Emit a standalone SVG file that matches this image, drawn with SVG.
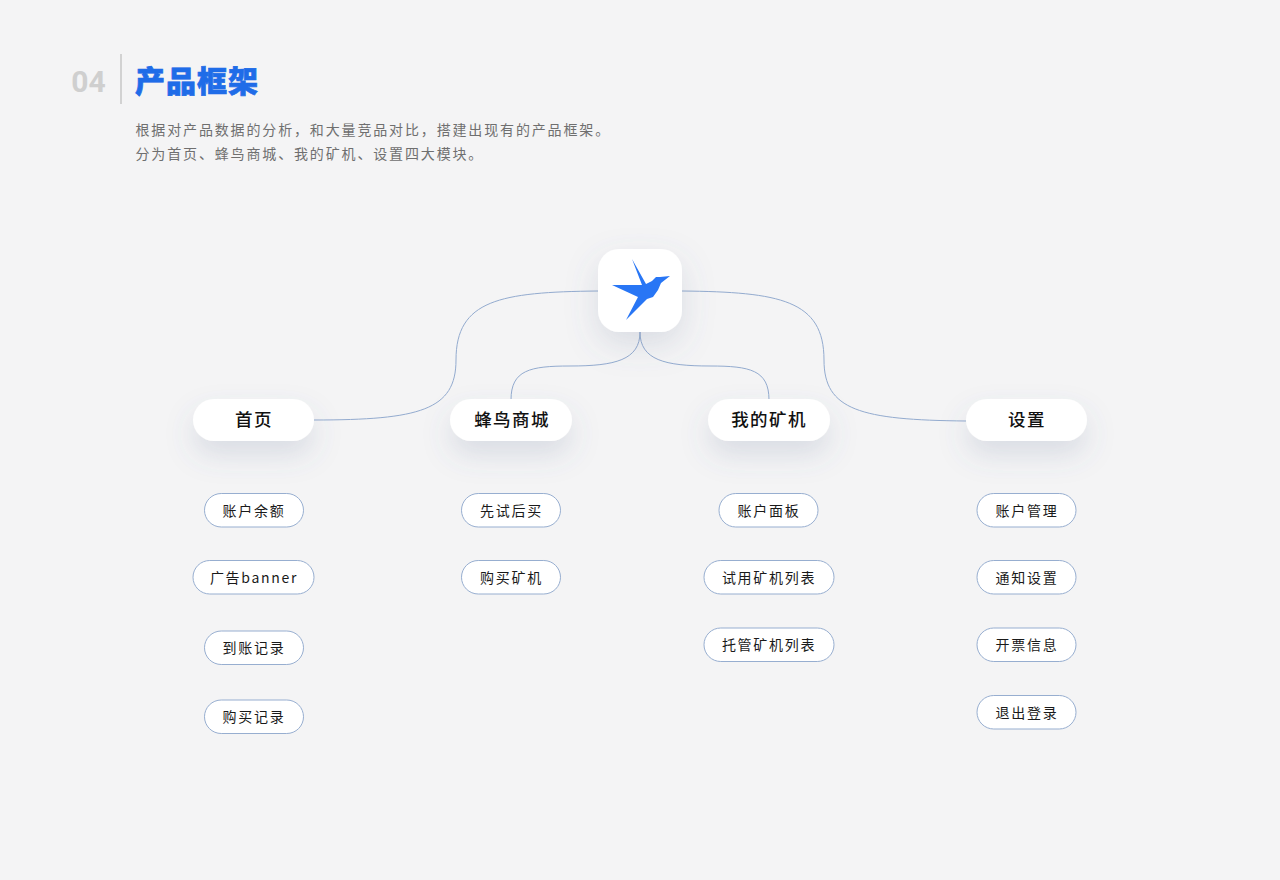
<svg xmlns="http://www.w3.org/2000/svg" width="1280" height="880" viewBox="0 0 1280 880">
<style>
text{font-family:"Noto Sans CJK SC","Noto Sans",sans-serif;text-anchor:middle}
.main rect{fill:#fff;filter:url(#sh)}
.main text{font-size:17.5px;font-weight:500;letter-spacing:1.4px;fill:#111}
.sub rect{fill:#fff;stroke:#97aed0;stroke-width:1}
.sub text{font-size:14px;letter-spacing:1.7px;fill:#1a1a1a}
.desc{font-size:14px;letter-spacing:1.85px;fill:#6f6f6f;text-anchor:start}
.link{fill:none;stroke:#93abcf;stroke-width:1}
</style>
<defs>
<filter id="sh" x="-60%" y="-100%" width="220%" height="400%"><feDropShadow dx="0" dy="14" stdDeviation="14" flood-color="#5a6a90" flood-opacity="0.17"/></filter>
<filter id="sh2" x="-60%" y="-60%" width="220%" height="240%"><feDropShadow dx="0" dy="12" stdDeviation="16" flood-color="#5a6a90" flood-opacity="0.18"/></filter>
</defs>
<rect width="1280" height="880" fill="#f4f4f5"/>
<g id="header">
<text x="88.500" y="92" style="font-family:Roboto,'Liberation Sans',sans-serif;font-size:30px;font-weight:700" fill="#cfcfcf">04</text>
<rect x="120" y="54" width="2" height="50" fill="#d2d2d2"/>
<text x="135" y="92" stroke="#1f6ce8" stroke-width="0.7" style="font-size:30px;font-weight:900;letter-spacing:1px;text-anchor:start" fill="#1f6ce8">产品框架</text>
<text class="desc" x="135.500" y="134.500">根据对产品数据的分析，和大量竞品对比，搭建出现有的产品框架。</text>
<text class="desc" x="135.500" y="158.500">分为首页、蜂鸟商城、我的矿机、设置四大模块。</text>
</g>
<g id="connectors">
<path class="link" d="M598 291C500 292 456 300 456 360C456 410 420 420 314 420"/>
<path class="link" d="M682 291C780 292 824 300 824 360C824 410 860 420 966 421"/>
<path class="link" d="M640 332C640 360 615 366 570 366C530 366 511 370 511 400"/>
<path class="link" d="M640 332C640 360 665 366 710 366C750 366 769 370 769 400"/>
</g>
<g id="logo">
<rect x="598" y="249" width="84" height="83" rx="21" fill="#fff" filter="url(#sh2)"/>
<path d="M632 259L646 284L652 281L656 277L660 277L670 276L661 283L658 290L653 297L647 299L626 320L638 297L612 285L642 285Z" fill="#2876f5"/>
</g>
<g id="n-home" class="main"><rect x="193" y="399" width="121" height="42" rx="21"/><text x="254" y="426">首页</text></g>
<g id="n-shop" class="main"><rect x="450" y="399" width="122" height="42" rx="21"/><text x="512" y="426">蜂鸟商城</text></g>
<g id="n-miner" class="main"><rect x="708" y="399" width="122" height="42" rx="21"/><text x="769" y="426">我的矿机</text></g>
<g id="n-set" class="main"><rect x="966" y="399" width="121" height="42" rx="21"/><text x="1027" y="426">设置</text></g>
<g id="a1" class="sub"><rect x="204.500" y="493.500" width="99" height="33.500" rx="16.750"/><text x="254" y="515.500">账户余额</text></g>
<g id="a2" class="sub"><rect x="193" y="560.500" width="121" height="33.500" rx="16.750"/><text x="254" y="582.500">广告banner</text></g>
<g id="a3" class="sub"><rect x="204.500" y="631" width="99" height="33.500" rx="16.750"/><text x="254" y="653">到账记录</text></g>
<g id="a4" class="sub"><rect x="204.500" y="700" width="99" height="33.500" rx="16.750"/><text x="254" y="722">购买记录</text></g>
<g id="b1" class="sub"><rect x="461.500" y="493.500" width="99" height="33.500" rx="16.750"/><text x="511.500" y="515.500">先试后买</text></g>
<g id="b2" class="sub"><rect x="461.500" y="560.500" width="99" height="33.500" rx="16.750"/><text x="511.500" y="582.500">购买矿机</text></g>
<g id="c1" class="sub"><rect x="719" y="493.500" width="99" height="33.500" rx="16.750"/><text x="769" y="515.500">账户面板</text></g>
<g id="c2" class="sub"><rect x="704" y="560.500" width="130" height="33.500" rx="16.750"/><text x="769" y="582.500">试用矿机列表</text></g>
<g id="c3" class="sub"><rect x="704" y="628" width="130" height="33.500" rx="16.750"/><text x="769" y="650">托管矿机列表</text></g>
<g id="d1" class="sub"><rect x="977" y="493.500" width="99" height="33.500" rx="16.750"/><text x="1027" y="515.500">账户管理</text></g>
<g id="d2" class="sub"><rect x="977" y="560.500" width="99" height="33.500" rx="16.750"/><text x="1027" y="582.500">通知设置</text></g>
<g id="d3" class="sub"><rect x="977" y="628" width="99" height="33.500" rx="16.750"/><text x="1027" y="650">开票信息</text></g>
<g id="d4" class="sub"><rect x="977" y="695.500" width="99" height="33.500" rx="16.750"/><text x="1027" y="717.500">退出登录</text></g>
</svg>
